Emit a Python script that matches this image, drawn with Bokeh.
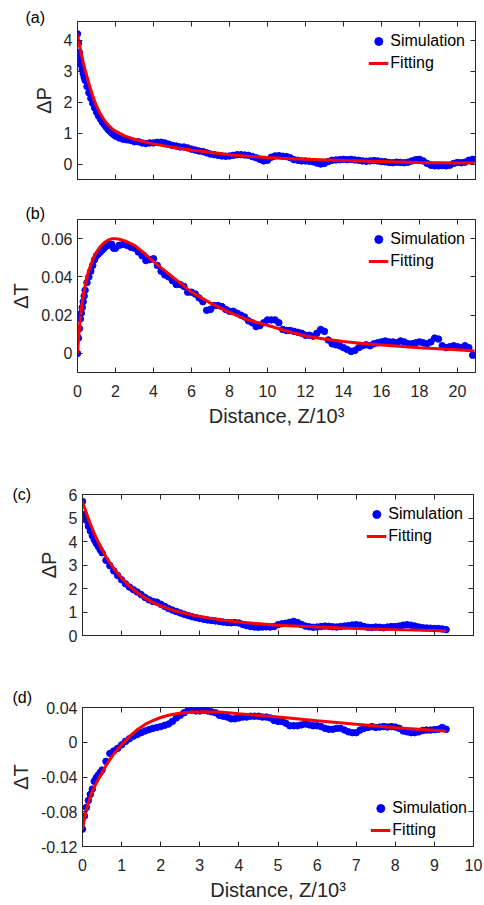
from bokeh.plotting import figure
from bokeh.models import (Range1d, FixedTicker, LinearAxis, Legend, LegendItem,
                          CustomJSTickFormatter, Spacer)
from bokeh.layouts import column, row
from bokeh.embed import file_html
from bokeh.resources import INLINE

# ---------------- data ----------------
Z_AB = [0, 0.05, 0.1, 0.15, 0.2, 0.25, 0.3, 0.35, 0.4, 0.5, 0.6, 0.7, 0.8, 0.9,
        1.0, 1.1, 1.2, 1.3, 1.4, 1.5, 1.6, 1.7, 1.8, 1.9, 2.0, 2.2, 2.4, 2.6, 2.8,
        3.0, 3.2, 3.4, 3.6, 3.8, 4.0, 4.2, 4.4, 4.6, 4.8, 5.0, 5.2, 5.4, 5.6, 5.8,
        6.0, 6.2, 6.4, 6.6, 6.8, 7.0, 7.2, 7.4, 7.6, 7.8, 8.0, 8.2, 8.4, 8.6, 8.8,
        9.0, 9.2, 9.4, 9.6, 9.8, 10.0, 10.2, 10.4, 10.6, 10.8, 11.0, 11.2, 11.4,
        11.6, 11.8, 12.0, 12.2, 12.4, 12.6, 12.8, 13.0, 13.2, 13.4, 13.6, 13.8,
        14.0, 14.2, 14.4, 14.6, 14.8, 15.0, 15.2, 15.4, 15.6, 15.8, 16.0, 16.2,
        16.4, 16.6, 16.8, 17.0, 17.2, 17.4, 17.6, 17.8, 18.0, 18.2, 18.4, 18.6,
        18.8, 19.0, 19.2, 19.4, 19.6, 19.8, 20.0, 20.2, 20.4, 20.6, 20.8]

SIM_A = [4.2, 3.9, 3.6, 3.38, 3.2, 3.05, 2.92, 2.8, 2.7, 2.5, 2.3, 2.12, 1.96, 1.82,
         1.68, 1.56, 1.46, 1.36, 1.28, 1.2, 1.12, 1.06, 1.0, 0.95, 0.9, 0.84, 0.8,
         0.78, 0.76, 0.72, 0.72, 0.68, 0.66, 0.68, 0.68, 0.7, 0.7, 0.68, 0.64, 0.6,
         0.58, 0.55, 0.55, 0.52, 0.48, 0.45, 0.42, 0.4, 0.36, 0.32, 0.3, 0.28, 0.26,
         0.25, 0.26, 0.28, 0.3, 0.3, 0.29, 0.28, 0.24, 0.2, 0.15, 0.1, 0.12, 0.22,
         0.26, 0.27, 0.25, 0.24, 0.2, 0.14, 0.12, 0.1, 0.1, 0.09, 0.07, 0.03, 0.0,
         0.02, 0.08, 0.12, 0.13, 0.14, 0.15, 0.14, 0.15, 0.13, 0.12, 0.1, 0.09,
         0.1, 0.11, 0.1, 0.08, 0.07, 0.05, 0.04, 0.06, 0.05, 0.04, 0.06, 0.1, 0.14,
         0.15, 0.1, 0.02, -0.04, -0.06, -0.06, -0.05, -0.06, -0.04, 0.02, 0.05,
         0.04, 0.06, 0.12, 0.15]

SIM_B = [0.0, 0.008, 0.013, 0.018, 0.021, 0.024, 0.027, 0.03, 0.033, 0.037, 0.04,
         0.043, 0.046, 0.049, 0.051, 0.052, 0.053, 0.054, 0.055, 0.056, 0.0565,
         0.057, 0.057, 0.055, 0.055, 0.0565, 0.057, 0.0565, 0.0555, 0.055, 0.053,
         0.051, 0.0485, 0.049, 0.0495, 0.046, 0.043, 0.041, 0.04, 0.038, 0.036,
         0.036, 0.035, 0.032, 0.032, 0.031, 0.029, 0.027, 0.0225, 0.023, 0.025,
         0.025, 0.0245, 0.023, 0.022, 0.022, 0.021, 0.02, 0.019, 0.017, 0.016,
         0.014, 0.0145, 0.016, 0.0175, 0.0175, 0.0175, 0.016, 0.0125, 0.012, 0.012,
         0.0115, 0.011, 0.0105, 0.0095, 0.0095, 0.009, 0.0105, 0.0125, 0.0115,
         0.007, 0.005, 0.0045, 0.004, 0.003, 0.002, 0.001, 0.0015, 0.003, 0.004,
         0.0045, 0.004, 0.005, 0.0055, 0.006, 0.0065, 0.006, 0.006, 0.0055, 0.0065,
         0.006, 0.005, 0.005, 0.0055, 0.006, 0.0055, 0.005, 0.006, 0.008, 0.0075,
         0.004, 0.003, 0.0035, 0.004, 0.0035, 0.003, 0.004, 0.003, -0.001]

FIT_A_X = [0, 0.1, 0.2, 0.3, 0.4, 0.5, 0.6, 0.7, 0.8, 0.9, 1.0, 1.2, 1.4, 1.6, 1.8,
           2.0, 2.5, 3.0, 3.5, 4, 5, 6, 7, 8, 9, 10, 11, 12, 14, 16, 18, 20, 20.9]
FIT_A_Y = [4.2, 3.85, 3.55, 3.28, 3.04, 2.82, 2.6, 2.4, 2.2, 2.03, 1.88, 1.62, 1.42,
           1.27, 1.15, 1.06, 0.9, 0.8, 0.72, 0.65, 0.54, 0.45, 0.37, 0.3, 0.25, 0.21,
           0.18, 0.15, 0.11, 0.08, 0.05, 0.03, 0.03]

FIT_B_X = [0, 0.1, 0.2, 0.3, 0.4, 0.5, 0.6, 0.8, 1.0, 1.2, 1.4, 1.6, 1.8, 2.0, 2.2,
           2.5, 3.0, 3.5, 4, 5, 6, 7, 8, 9, 10, 11, 12, 13, 14, 15, 16, 18, 20, 20.9]
FIT_B_Y = [0, 0.0135, 0.023, 0.03, 0.0355, 0.04, 0.0435, 0.049, 0.053, 0.0558,
           0.0578, 0.0592, 0.0599, 0.06, 0.0597, 0.0588, 0.0565, 0.0525, 0.048, 0.04,
           0.032, 0.0263, 0.0214, 0.0174, 0.0147, 0.0117, 0.0091, 0.0075, 0.0062,
           0.0052, 0.0044, 0.003, 0.0019, 0.0012]

Z_CD = [0, 0.05, 0.1, 0.15, 0.2, 0.25, 0.3, 0.35, 0.4, 0.45, 0.5, 0.6, 0.7, 0.8,
        0.9, 1.0, 1.1, 1.2, 1.3, 1.4, 1.5, 1.6, 1.7, 1.8, 1.9, 2.0, 2.1, 2.2, 2.3,
        2.4, 2.5, 2.6, 2.7, 2.8, 2.9, 3.0, 3.1, 3.2, 3.3, 3.4, 3.5, 3.6, 3.7, 3.8,
        3.9, 4.0, 4.1, 4.2, 4.3, 4.4, 4.5, 4.6, 4.7, 4.8, 4.9, 5.0, 5.1, 5.2, 5.3,
        5.4, 5.5, 5.6, 5.7, 5.8, 5.9, 6.0, 6.1, 6.2, 6.3, 6.4, 6.5, 6.6, 6.7, 6.8,
        6.9, 7.0, 7.1, 7.2, 7.3, 7.4, 7.5, 7.6, 7.7, 7.8, 7.9, 8.0, 8.1, 8.2, 8.3,
        8.4, 8.5, 8.6, 8.7, 8.8, 8.9, 9.0, 9.1, 9.2, 9.3]

SIM_C = [5.7, 5.15, 4.9, 4.65, 4.45, 4.25, 4.08, 3.93, 3.8, 3.65, 3.52, 3.2, 2.97,
         2.75, 2.55, 2.37, 2.2, 2.06, 1.95, 1.85, 1.74, 1.62, 1.52, 1.45, 1.42, 1.33,
         1.24, 1.15, 1.08, 1.02, 0.96, 0.9, 0.85, 0.8, 0.76, 0.72, 0.69, 0.66, 0.64,
         0.62, 0.6, 0.57, 0.55, 0.54, 0.55, 0.53, 0.47, 0.42, 0.38, 0.36, 0.35, 0.36,
         0.37, 0.36, 0.38, 0.46, 0.5, 0.52, 0.56, 0.6, 0.55, 0.47, 0.4, 0.37, 0.35,
         0.36, 0.38, 0.4, 0.39, 0.37, 0.36, 0.38, 0.4, 0.42, 0.45, 0.46, 0.44, 0.38,
         0.35, 0.34, 0.36, 0.35, 0.33, 0.36, 0.38, 0.38, 0.4, 0.44, 0.46, 0.44, 0.4,
         0.36, 0.33, 0.32, 0.31, 0.3, 0.3, 0.28, 0.25]

SIM_D = [-0.1, -0.085, -0.075, -0.067, -0.06, -0.054, -0.045, -0.041, -0.038,
         -0.035, -0.032, -0.022, -0.013, -0.01, -0.007, -0.003, 0.001, 0.004, 0.007,
         0.009, 0.011, 0.013, 0.0145, 0.016, 0.017, 0.018, 0.0195, 0.021, 0.024,
         0.028, 0.031, 0.034, 0.037, 0.037, 0.036, 0.036, 0.037, 0.036, 0.035, 0.034,
         0.031, 0.03, 0.029, 0.027, 0.027, 0.028, 0.029, 0.029, 0.03, 0.03, 0.03,
         0.029, 0.029, 0.028, 0.025, 0.024, 0.024, 0.022, 0.019, 0.019, 0.019, 0.02,
         0.021, 0.02, 0.019, 0.019, 0.018, 0.016, 0.015, 0.015, 0.016, 0.016, 0.014,
         0.012, 0.011, 0.011, 0.014, 0.016, 0.017, 0.018, 0.017, 0.0175, 0.018,
         0.0175, 0.018, 0.0175, 0.016, 0.013, 0.012, 0.011, 0.011, 0.012, 0.0135,
         0.014, 0.014, 0.0145, 0.015, 0.017, 0.015]

FIT_C_X = [0, 0.1, 0.2, 0.3, 0.4, 0.5, 0.6, 0.8, 1.0, 1.2, 1.4, 1.6, 1.8, 2.0, 2.4,
           2.8, 3.2, 3.6, 4, 5, 6, 7, 8, 9, 9.3]
FIT_C_Y = [5.7, 5.2, 4.75, 4.35, 3.98, 3.65, 3.35, 2.85, 2.45, 2.1, 1.82, 1.6, 1.41,
           1.26, 1.03, 0.87, 0.75, 0.65, 0.57, 0.44, 0.36, 0.3, 0.25, 0.21, 0.19]

FIT_D_X = [0, 0.1, 0.2, 0.3, 0.4, 0.5, 0.6, 0.7, 0.8, 0.9, 1.0, 1.2, 1.4, 1.6, 1.8,
           2.0, 2.2, 2.4, 2.6, 2.8, 3.0, 3.5, 4, 5, 6, 7, 8, 9, 9.3]
FIT_D_Y = [-0.1, -0.077, -0.062, -0.052, -0.043, -0.035, -0.027, -0.02, -0.0135,
           -0.008, -0.003, 0.0065, 0.0145, 0.0205, 0.025, 0.0285, 0.031, 0.0328,
           0.034, 0.0347, 0.035, 0.0348, 0.0328, 0.029, 0.0247, 0.0207, 0.0168,
           0.0137, 0.0128]

XTICKS_AB = [0, 2, 4, 6, 8, 10, 12, 14, 16, 18, 20]
XTICKS_CD = [0, 1, 2, 3, 4, 5, 6, 7, 8, 9, 10]
YTICKS_A = [0, 1, 2, 3, 4]
YTICKS_B = [0, 0.02, 0.04, 0.06]
YTICKS_C = [0, 1, 2, 3, 4, 5, 6]
YTICKS_D = [-0.12, -0.08, -0.04, 0, 0.04]

XLABEL = "Distance, Z/10\u00b3"

# ---------------- styling ----------------
FONT = "Liberation Sans"
AX = "#262626"
TICK_FS = "16px"
LABEL_FS = "20px"
fmt = CustomJSTickFormatter(code="return String(Number(tick.toFixed(4)));")


def style_axis(ax, ticks, show_labels, horizontal):
    ax.ticker = FixedTicker(ticks=ticks)
    ax.formatter = fmt
    ax.major_tick_in = 5
    ax.major_tick_out = 0
    ax.minor_tick_line_color = None
    ax.major_tick_line_color = AX
    ax.axis_line_color = AX
    ax.axis_line_width = 1
    ax.major_label_text_font = FONT
    ax.axis_label_text_font = FONT
    ax.axis_label_text_font_style = "normal"
    ax.axis_label_text_font_size = LABEL_FS
    ax.axis_label_text_color = AX
    ax.axis_label_standoff = 5 if horizontal else 6
    if show_labels:
        ax.major_label_text_color = AX
        ax.major_label_text_font_size = TICK_FS
        ax.major_label_standoff = 12 if horizontal else 5
    else:
        ax.major_label_text_alpha = 0
        ax.major_label_text_font_size = "1px"
        ax.major_label_standoff = 0


def panel(width, height, borders, xr, yr, xticks, yticks, sx, sy, fx, fy,
          ylabel, xlabel, tag, tag_offset, tag_standoff, legend_loc, legend_margin):
    left, right, top, bottom = borders
    p = figure(width=width, height=height,
               x_range=Range1d(*xr), y_range=Range1d(*yr),
               output_backend="svg", toolbar_location=None,
               min_border_left=left, min_border_right=right,
               min_border_top=top, min_border_bottom=bottom)
    p.xgrid.visible = False
    p.ygrid.visible = False
    p.outline_line_color = AX
    p.outline_line_width = 1
    p.background_fill_color = "white"
    p.border_fill_color = "white"

    # panel tag as a left-aligned title
    p.title.text = tag
    p.title.align = "left"
    p.title.text_font = FONT
    p.title.text_font_size = "16px"
    p.title.text_font_style = "normal"
    p.title.text_color = "black"
    p.title.offset = tag_offset
    try:
        p.title.standoff = tag_standoff
    except Exception:
        p.title.standoff = 0

    style_axis(p.xaxis[0], xticks, xlabel is not None, True)
    style_axis(p.yaxis[0], yticks, True, False)
    if xlabel is not None:
        p.xaxis[0].axis_label = xlabel
    p.yaxis[0].axis_label = ylabel

    top_ax = LinearAxis()
    style_axis(top_ax, xticks, False, True)
    p.add_layout(top_ax, "above")
    right_ax = LinearAxis()
    style_axis(right_ax, yticks, False, False)
    p.add_layout(right_ax, "right")

    sc = p.scatter(sx, sy, size=6.5, marker="circle", fill_color="#0000FF",
                   line_color="#0000FF")
    ln = p.line(fx, fy, line_color="#FF0000", line_width=3)

    legend = Legend(items=[LegendItem(label="Simulation", renderers=[sc]),
                           LegendItem(label="Fitting", renderers=[ln])],
                    location=legend_loc)
    legend.label_text_font = FONT
    legend.label_text_font_size = "16px"
    legend.label_text_color = "black"
    legend.border_line_alpha = 0
    legend.background_fill_alpha = 0
    legend.glyph_width = 20
    legend.glyph_height = 20
    legend.label_standoff = 2
    legend.spacing = 2
    legend.padding = 2
    legend.margin = legend_margin
    p.add_layout(legend)
    return p


pa = panel(483, 199, (77, 8, 21, 20), (0, 20.95), (-0.5, 4.6), XTICKS_AB, YTICKS_A,
           Z_AB, SIM_A, FIT_A_X, FIT_A_Y, "\u0394P", None, "(a)", -52, -9,
           "top_right", 8)
pb = panel(483, 241, (77, 8, 20, 68), (0, 20.95), (-0.01, 0.07), XTICKS_AB, YTICKS_B,
           Z_AB, SIM_B, FIT_B_X, FIT_B_Y, "\u0394T", XLABEL, "(b)", -52, -4,
           "top_right", 8)
pc = panel(478, 220, (77, 10, 54, 25), (0, 10), (0, 6), XTICKS_CD, YTICKS_C,
           Z_CD, SIM_C, FIT_C_X, FIT_C_Y, "\u0394P", None, "(c)", -70, -17,
           "top_right", 8)
pd_ = panel(478, 244, (77, 10, 47, 58), (0, 10), (-0.12, 0.04), XTICKS_CD, YTICKS_D,
            Z_CD, SIM_D, FIT_D_X, FIT_D_Y, "\u0394T", XLABEL, "(d)", -70, 4,
            "bottom_right", 4)

layout = column(pa, pb, row(Spacer(width=5, height=220), pc, spacing=0),
                row(Spacer(width=5, height=244), pd_, spacing=0), spacing=0)
open("out.html", "w").write(file_html(layout, INLINE))
